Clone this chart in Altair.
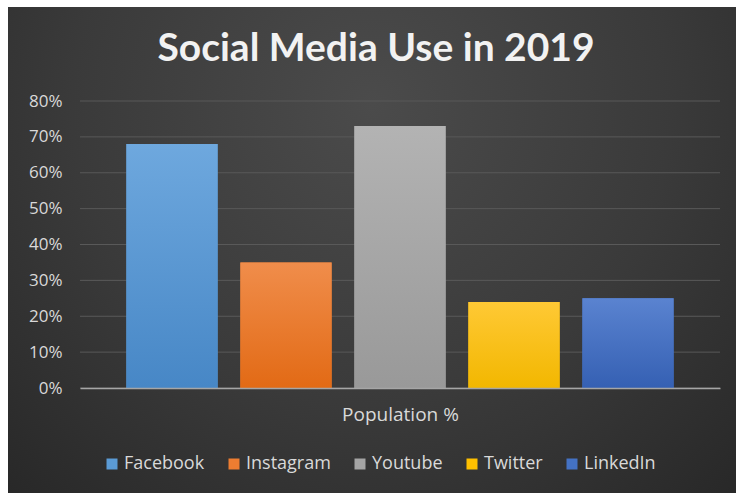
import altair as alt
import pandas as pd

platforms = ["Facebook", "Instagram", "Youtube", "Twitter", "LinkedIn"]
usage = [0.68, 0.35, 0.73, 0.24, 0.25]
base_colors = ["#5b9bd5", "#ed7d31", "#a5a5a5", "#ffc000", "#4472c4"]
top_colors = ["#6ea8de", "#f08d4b", "#b3b3b3", "#ffc935", "#5a83d0"]
bottom_colors = ["#4787c6", "#e26a15", "#999999", "#f2b700", "#3560b3"]
y_ticks = [0, 0.1, 0.2, 0.3, 0.4, 0.5, 0.6, 0.7, 0.8]

df = pd.DataFrame({"platform": platforms, "usage": usage})
ticks_df = pd.DataFrame({"usage": y_ticks})
bg_df = pd.DataFrame({"bg": [0]})

FONT = "Open Sans"
TITLE_FONT = "Lato"
TEXT_COLOR = "#d9d9d9"

x_enc = alt.X(
    "platform:N",
    sort=platforms,
    scale=alt.Scale(domain=platforms, paddingInner=0.2, paddingOuter=0.407),
    axis=alt.Axis(
        labels=False, ticks=False, grid=False, zindex=1,
        domain=True, domainColor="#a6a6a6", domainWidth=1.5,
        title="Population %", titleFont=FONT, titleFontSize=19,
        titleFontWeight="normal", titleColor=TEXT_COLOR, titlePadding=17,
    ),
)
y_scale = alt.Scale(domain=[0, 0.8], nice=False)
y_enc = alt.Y(
    "usage:Q",
    scale=y_scale,
    axis=alt.Axis(
        values=y_ticks, format=".0%", title=None, zindex=1,
        labelFont=FONT, labelFontSize=17, labelColor=TEXT_COLOR,
        labelPadding=18, tickSize=0, ticks=False, domain=False, grid=False,
    ),
)

# decorative chart-area background (radial gradient)
background = alt.Chart(bg_df).mark_rect(
    fill=alt.Gradient(
        gradient="radial",
        stops=[alt.GradientStop(color="#4b4b4b", offset=0),
               alt.GradientStop(color="#3a3a3a", offset=0.55),
               alt.GradientStop(color="#272727", offset=1)],
        x1=0.5, y1=0.3, r1=0, x2=0.5, y2=0.3, r2=0.75,
    )
).encode(
    x=alt.value(-72), x2=alt.value(656), y=alt.value(-94), y2=alt.value(392)
)

grid = alt.Chart(ticks_df).mark_rule(color="#595959", strokeWidth=1).encode(
    y=y_enc
)

base = alt.Chart(df)

legend_layer = base.mark_bar().encode(
    x=x_enc,
    y=y_enc,
    color=alt.Color(
        "platform:N",
        sort=platforms,
        scale=alt.Scale(domain=platforms, range=base_colors),
        legend=alt.Legend(
            title=None, orient="none", direction="horizontal", columns=5,
            legendX=23, legendY=354,
            symbolType="square", symbolSize=121, symbolStrokeWidth=0,
            labelFont=FONT, labelFontSize=18, labelColor=TEXT_COLOR,
            labelOffset=3, columnPadding=20,
        ),
    ),
)

layers = [background, grid, legend_layer]
for p, tc, bc in zip(platforms, top_colors, bottom_colors):
    layers.append(
        base.transform_filter(alt.datum.platform == p)
        .mark_bar(
            color=alt.Gradient(
                gradient="linear",
                stops=[alt.GradientStop(color=tc, offset=0),
                       alt.GradientStop(color=bc, offset=1)],
                x1=0, x2=0, y1=0, y2=1,
            )
        )
        .encode(x=x_enc, y=y_enc)
    )

chart = (
    alt.layer(*layers)
    .properties(
        width=640,
        height=287,
        padding={"left": 80, "top": 101, "right": 17, "bottom": 105},
        autosize=alt.AutoSizeParams(type="none"),
        background="white",
        title=alt.TitleParams(
            text="Social Media Use in 2019",
            font=TITLE_FONT, fontSize=39, fontWeight="bold", color="#f2f2f2",
            anchor="middle", baseline="alphabetic", offset=0, dy=93, dx=-24,
        ),
    )
    .configure_view(stroke="transparent")
)

chart.save("out.html", embed_options={"renderer": "svg", "actions": False})
